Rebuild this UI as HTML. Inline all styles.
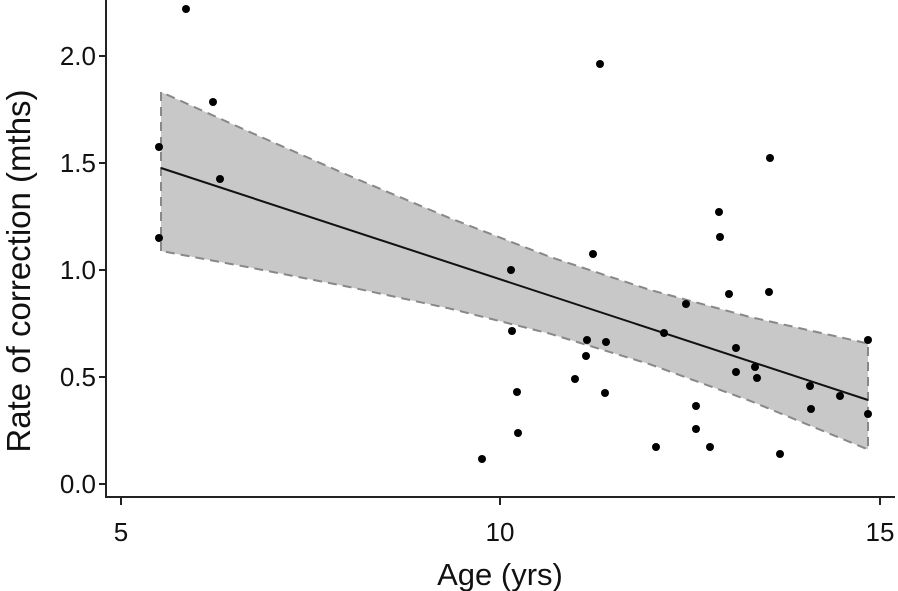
<!DOCTYPE html>
<html><head><style>body{margin:0;background:#fff}svg{display:block}text{font-family:"Liberation Sans",sans-serif;fill:#111}</style></head>
<body>
<svg width="898" height="591" viewBox="0 0 898 591">
<polygon points="161,92 250,132.1 350,176.1 450,218.2 550,256.9 650,289.9 750,317 868,343.5 868,449.5 750,400.8 650,364.3 550,333.7 450,308.6 350,287.1 250,267.5 161,251" fill="#c8c8c8"/>
<polyline points="161,251 161,92 250,132.1 350,176.1 450,218.2 550,256.9 650,289.9 750,317 868,343.5 868,449.5 750,400.8 650,364.3 550,333.7 450,308.6 350,287.1 250,267.5 161,251" fill="none" stroke="#888" stroke-width="2" stroke-dasharray="9,6"/>
<line x1="161" y1="168" x2="868" y2="400" stroke="#111" stroke-width="2"/>
<g fill="#000">
<circle cx="186" cy="9" r="4"/><circle cx="159" cy="147" r="4"/><circle cx="159" cy="238" r="4"/><circle cx="213" cy="102" r="4"/><circle cx="220" cy="179" r="4"/><circle cx="600" cy="64" r="4"/><circle cx="575" cy="379" r="4"/><circle cx="593" cy="254" r="4"/><circle cx="511" cy="270" r="4"/><circle cx="512" cy="331" r="4"/><circle cx="517" cy="392" r="4"/><circle cx="518" cy="433" r="4"/><circle cx="482" cy="459" r="4"/><circle cx="587" cy="340" r="4"/><circle cx="586" cy="356" r="4"/><circle cx="606" cy="342" r="4"/><circle cx="605" cy="393" r="4"/><circle cx="656" cy="447" r="4"/><circle cx="664" cy="333" r="4"/><circle cx="686" cy="304" r="4"/><circle cx="696" cy="406" r="4"/><circle cx="696" cy="429" r="4"/><circle cx="710" cy="447" r="4"/><circle cx="719" cy="212" r="4"/><circle cx="720" cy="237" r="4"/><circle cx="729" cy="294" r="4"/><circle cx="736" cy="348" r="4"/><circle cx="736" cy="372" r="4"/><circle cx="755" cy="367" r="4"/><circle cx="757" cy="378" r="4"/><circle cx="770" cy="158" r="4"/><circle cx="769" cy="292" r="4"/><circle cx="780" cy="454" r="4"/><circle cx="810" cy="386" r="4"/><circle cx="811" cy="409" r="4"/><circle cx="840" cy="396" r="4"/><circle cx="868" cy="340" r="4"/><circle cx="868" cy="414" r="4"/>
</g>
<g stroke="#222" stroke-width="2">
<line x1="106" y1="0" x2="106" y2="498"/><line x1="105" y1="497" x2="895" y2="497"/>
<line x1="99" y1="484" x2="106" y2="484"/><line x1="99" y1="377" x2="106" y2="377"/><line x1="99" y1="270" x2="106" y2="270"/><line x1="99" y1="163" x2="106" y2="163"/><line x1="99" y1="56" x2="106" y2="56"/>
<line x1="121" y1="497" x2="121" y2="505"/><line x1="500" y1="497" x2="500" y2="505"/><line x1="880" y1="497" x2="880" y2="505"/>
</g>
<g font-size="26" text-anchor="end">
<text x="96" y="493">0.0</text><text x="96" y="386">0.5</text><text x="96" y="279">1.0</text><text x="96" y="172">1.5</text><text x="96" y="65">2.0</text>
</g>
<g font-size="26" text-anchor="middle">
<text x="121" y="541">5</text><text x="500" y="541">10</text><text x="880" y="541">15</text>
</g>
<g font-size="31" text-anchor="middle">
<text x="500" y="585">Age (yrs)</text>
<text transform="translate(30,271) rotate(-90)" font-size="33">Rate of correction (mths)</text>
</g>
</svg>
</body></html>
